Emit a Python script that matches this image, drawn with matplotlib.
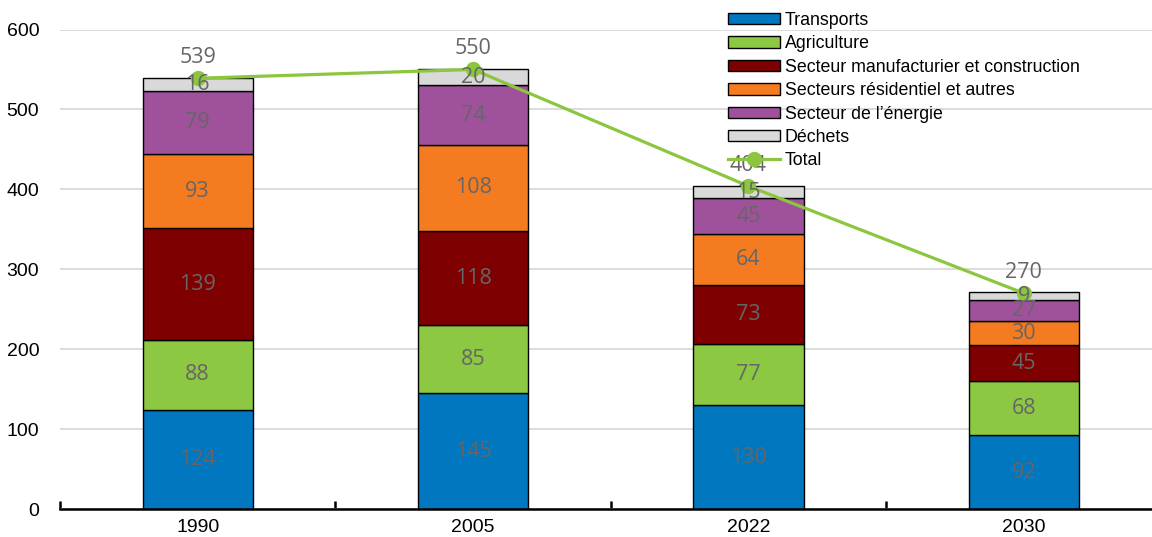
import matplotlib
matplotlib.use("Agg")
import matplotlib.pyplot as plt
import numpy as np

# Emissions by sector (Mt CO2e)
years = ["1990", "2005", "2022", "2030"]
sectors = [
    "Transports",
    "Agriculture",
    "Secteur manufacturier et construction",
    "Secteurs résidentiel et autres",
    "Secteur de l’énergie",
    "Déchets",
]
transports = [124, 145, 130, 92]
agriculture = [88, 85, 77, 68]
manufacturier = [139, 118, 73, 45]
residentiel = [93, 108, 64, 30]
energie = [79, 74, 45, 27]
dechets = [16, 20, 15, 9]
total = [539, 550, 404, 270]
yticks = [0, 100, 200, 300, 400, 500, 600]

colors = ["#0077be", "#8cc841", "#7f0000", "#f47b20", "#9f519c", "#d9d9d9"]
line_color = "#8cc63f"
label_color = "#666666"

narrow = ["Liberation Sans Narrow", "Liberation Sans", "DejaVu Sans"]
value_font = ["Open Sans", "DejaVu Sans"]

fig = plt.figure(figsize=(11.52, 5.37), dpi=100)
W, H = 1152, 537
ax = fig.add_axes([60 / W, 28 / H, 1101.5 / W, 479.5 / H])

x = np.arange(len(years))
series = [transports, agriculture, manufacturier, residentiel, energie, dechets]
bottom = np.zeros(len(years))
width = 0.4
for name, vals, col in zip(sectors, series, colors):
    vals = np.array(vals, dtype=float)
    ax.bar(x, vals, width, bottom=bottom, color=col, edgecolor="black",
           linewidth=1.0, label=name, zorder=2)
    for xi, b, v in zip(x, bottom, vals):
        ax.text(xi, b + v / 2, f"{v:g}", ha="center", va="center",
                fontsize=15.5, color=label_color, family=value_font, zorder=5)
    bottom += vals

ax.plot(x, total, color=line_color, linewidth=2.3, marker="o",
        markersize=10, label="Total", zorder=4)
for xi, t in zip(x, total):
    ax.annotate(f"{t}", (xi, t), xytext=(0, 15), textcoords="offset points",
                ha="center", va="center", fontsize=15.5, color=label_color,
                family=value_font, zorder=5)

ax.set_xlim(-0.5, 3.5)
ax.set_ylim(0, 600)
ax.set_yticks(yticks)
ax.yaxis.grid(True, color="#d9d9d9", linewidth=1.3, zorder=0)
ax.set_axisbelow(True)
for s in ["left", "right", "top"]:
    ax.spines[s].set_visible(False)
ax.spines["bottom"].set_linewidth(1.8)
ax.spines["bottom"].set_zorder(6)

ax.set_xticks(x)
ax.set_xticklabels(years)
ax.set_xticks(np.arange(-0.5, 3.6, 1.0), minor=True)
ax.tick_params(axis="x", which="major", length=0, pad=7)
ax.tick_params(axis="x", which="minor", direction="in", length=6, width=1.8)
ax.tick_params(axis="y", length=0, pad=15)
for lab in ax.get_xticklabels() + ax.get_yticklabels():
    lab.set_family(narrow)
    lab.set_fontsize(14)
    lab.set_color("black")

# Legend: sectors first, then the total line
handles, labels = ax.get_legend_handles_labels()
order = [labels.index(s) for s in sectors] + [labels.index("Total")]
leg = fig.legend([handles[i] for i in order], [labels[i] for i in order],
                 loc="upper left", bbox_to_anchor=(728 / W, 1 - 12 / H),
                 frameon=False, borderaxespad=0, borderpad=0,
                 handlelength=2.9, handleheight=0.6, handletextpad=0.3,
                 labelspacing=0.36, prop={"family": narrow, "size": 12.8})

fig.savefig("out.png", dpi=100)
